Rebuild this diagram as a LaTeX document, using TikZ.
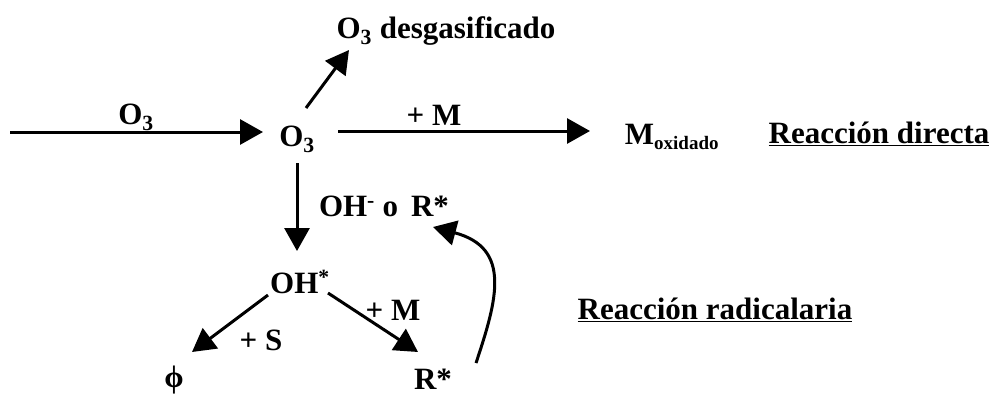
\documentclass[tikz,border=0pt]{standalone}
\usepackage{fontspec}
\setmainfont{Liberation Serif}
\usetikzlibrary{arrows.meta}
\tikzset{
  lbl/.style={font=\fontsize{31}{34}\selectfont\bfseries, inner sep=0pt},
  arr/.style={line width=3pt, -{Triangle[length=23pt,width=25pt]}},
}
\newcommand{\sbs}[1]{\textsubscript{#1}}
\begin{document}
\begin{tikzpicture}[x=1pt,y=-1pt]
\useasboundingbox (0,0) rectangle (993,394);
% nodes
\node[lbl] (o3) at (297,139) {O\sbs{3}};
\node[lbl] (o3in) at (136,117) {O\sbs{3}};
\coordinate (src) at (10,132);
\coordinate (inend) at (263,132);
\node[lbl] (desg) at (446,31) {O\sbs{3} desgasificado};
\node[lbl] (mox) at (672,137) {M\textsubscript{\fontsize{19}{20}\selectfont oxidado}};
\node[lbl] (dir) at (879,134) {\underline{Reacción directa}};
\node[lbl] (pm1) at (434,115) {+ M};
\node[lbl] (ohr) at (384,206) {OH\textsuperscript{-} o\, R*};
\node[lbl] (oh) at (300,282) {OH\textsuperscript{*}};
\node[lbl] (ps) at (261,340) {+ S};
\node[lbl] (pm2) at (393,310) {+ M};
\node[lbl] (phi) at (174,380) {ϕ};
\node[lbl] (r) at (433,379) {R*};
\node[lbl] (rad) at (715,310) {\underline{Reacción radicalaria}};
% connectors
\draw[arr] (src) -- (inend);
\draw[arr] (306,108) coordinate (a1) -- (349,50) coordinate (a1e);
\draw[arr] (338,131) coordinate (b1) -- (590,131) coordinate (b1e);
\draw[arr] (297,163) coordinate (c1) -- (297,251) coordinate (c1e);
\draw[arr] (268,295) coordinate (d1) -- (192,352) coordinate (d1e);
\draw[arr] (328,293) coordinate (e1) -- (418,352) coordinate (e1e);
\draw[arr] (476,363) coordinate (f1) .. controls (497,300) and (512,248) .. (433,227) coordinate (f1e);
\end{tikzpicture}
\end{document}
